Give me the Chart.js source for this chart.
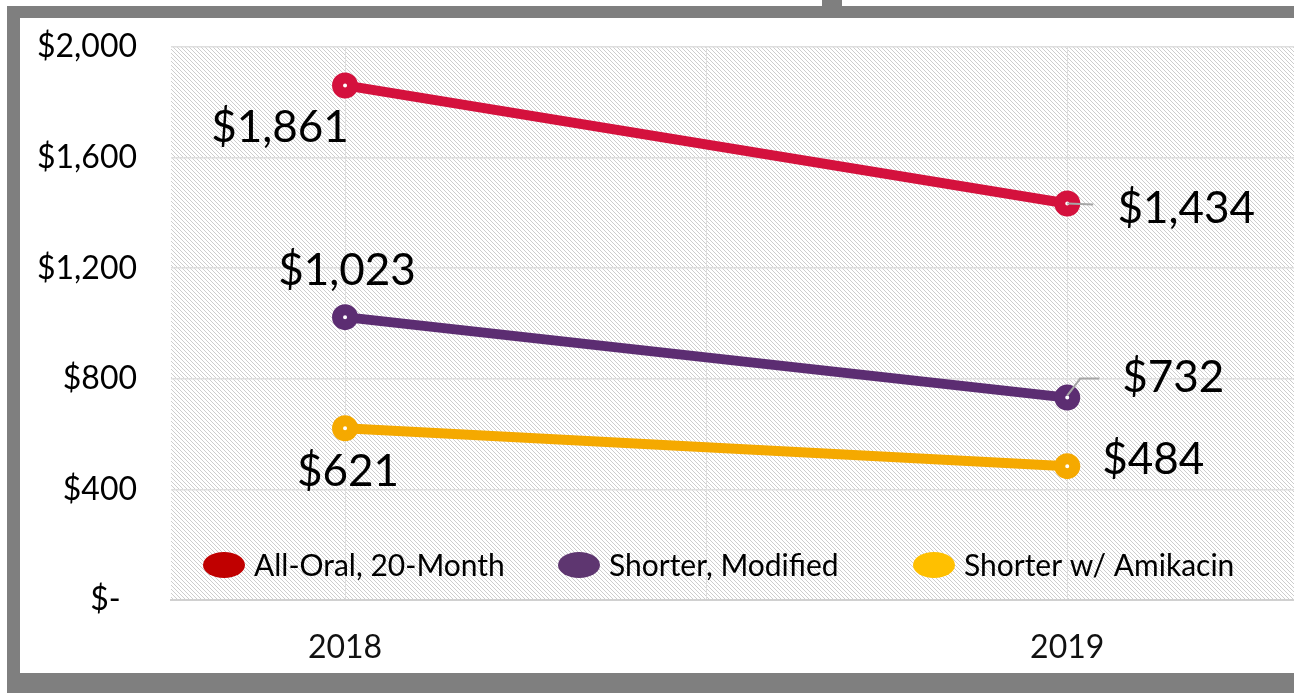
<!DOCTYPE html>
<html>
<head>
<meta charset="utf-8">
<script src="https://cdn.jsdelivr.net/npm/chart.js@4.4.1/dist/chart.umd.min.js"></script>
<style>
    body { margin: 0; background: #fff; overflow: hidden; width: 1294px; height: 693px; position: relative; }
    .bar { position: absolute; background: #7f7f7f; }
    #chartBox { position: absolute; left: 20px; top: 18px; width: 1274px; height: 655px; }
</style>
</head>
<body>
<div class="bar" style="left:822px; top:0; width:20px; height:6px;"></div>
<div class="bar" style="left:7px; top:6px; width:1287px; height:12px;"></div>
<div class="bar" style="left:7px; top:6px; width:13px; height:687px;"></div>
<div class="bar" style="left:7px; top:673px; width:1287px; height:20px;"></div>
<div id="chartBox"><canvas id="costChart" width="1274" height="655"></canvas></div>

<script>
const years = [2018, 2019];
const allOral = [1861, 1434];
const shorterModified = [1023, 732];
const shorterAmikacin = [621, 484];
const seriesNames = ["All-Oral, 20-Month", "Shorter, Modified", "Shorter w/ Amikacin"];
const yTicks = [0, 400, 800, 1200, 1600, 2000];

const lineColors = ['#d4113d', '#5c2d72', '#f5a900'];
const legendColors = ['#c00000', '#5e3670', '#ffc000'];

// label offsets from each point (px), [series][year]
const labelOffsets = [
    [[-65, 42], [119, 5]],
    [[2, -46], [106, -20]],
    [[3, 44], [86, -6]]
];

const toPoints = (vals) => vals.map((v, i) => ({ x: years[i], y: v }));

const makeHatch = function (ctx) {
    const tile = document.createElement('canvas');
    tile.width = 4;
    tile.height = 4;
    const t = tile.getContext('2d');
    t.fillStyle = '#ffffff';
    t.fillRect(0, 0, 4, 4);
    t.fillStyle = '#cdcdcd';
    for (let i = 0; i < 4; i++) {
        t.fillRect(i, i, 1, 1);
    }
    return ctx.createPattern(tile, 'repeat');
};

const hatchPlugin = {
    id: 'hatch',
    beforeDraw(chart) {
        const { ctx, chartArea } = chart;
        ctx.save();
        ctx.fillStyle = '#ffffff';
        ctx.fillRect(0, 0, chart.width, chart.height);
        ctx.fillStyle = makeHatch(ctx);
        ctx.fillRect(chartArea.left, chartArea.top, chartArea.right - chartArea.left, chartArea.bottom - chartArea.top + 1);
        ctx.restore();
    }
};

const valueLabelPlugin = {
    id: 'valueLabels',
    afterDatasetsDraw(chart) {
        const ctx = chart.ctx;
        ctx.save();
        // leader lines for two of the 2019 labels
        ctx.strokeStyle = '#a6a6a6';
        ctx.lineWidth = 2;
        const p1 = chart.getDatasetMeta(0).data[1];
        ctx.beginPath();
        ctx.moveTo(p1.x, p1.y);
        ctx.lineTo(p1.x + 26, p1.y + 1);
        ctx.stroke();
        const p2 = chart.getDatasetMeta(1).data[1];
        ctx.beginPath();
        ctx.moveTo(p2.x, p2.y - 2);
        ctx.lineTo(p2.x + 13, p2.y - 19);
        ctx.lineTo(p2.x + 32, p2.y - 19);
        ctx.stroke();

        ctx.font = '44px Lato';
        ctx.fillStyle = '#000';
        ctx.textAlign = 'center';
        ctx.textBaseline = 'middle';
        chart.data.datasets.forEach((ds, i) => {
            chart.getDatasetMeta(i).data.forEach((pt, j) => {
                const off = labelOffsets[i][j];
                const txt = '$' + ds.data[j].y.toLocaleString('en-US');
                ctx.fillText(txt, pt.x + off[0], pt.y + off[1]);
            });
        });
        ctx.restore();
    }
};

const legendPlugin = {
    id: 'innerLegend',
    afterDraw(chart) {
        const { ctx, chartArea } = chart;
        ctx.save();
        ctx.font = '30px Lato';
        ctx.textAlign = 'left';
        ctx.textBaseline = 'middle';
        seriesNames.forEach((name, i) => {
            const cx = chartArea.left + 53 + i * 355;
            const cy = chartArea.bottom - 35;
            ctx.fillStyle = legendColors[i];
            ctx.beginPath();
            ctx.ellipse(cx, cy, 21, 13, 0, 0, Math.PI * 2);
            ctx.fill();
            ctx.fillStyle = '#000';
            ctx.fillText(name, cx + 30, cy + 1);
        });
        ctx.restore();
    }
};

const lineSet = (label, vals, color) => ({
    label: label,
    data: toPoints(vals),
    borderColor: color,
    backgroundColor: color,
    borderWidth: 10,
    pointRadius: 7.5,
    pointHoverRadius: 7.5,
    pointBorderWidth: 11,
    pointBorderColor: color,
    pointBackgroundColor: '#ffffff'
});

const noEdgePadding = (scale) => {
    scale.paddingTop = 0;
    scale.paddingBottom = 0;
    scale.paddingLeft = 0;
    scale.paddingRight = 0;
};

const ctx = document.getElementById('costChart').getContext('2d');
new Chart(ctx, {
    type: 'line',
    data: {
        datasets: [
            lineSet(seriesNames[0], allOral, lineColors[0]),
            lineSet(seriesNames[1], shorterModified, lineColors[1]),
            lineSet(seriesNames[2], shorterAmikacin, lineColors[2])
        ]
    },
    plugins: [hatchPlugin, valueLabelPlugin, legendPlugin],
    options: {
        responsive: false,
        animation: false,
        layout: { autoPadding: false, padding: { top: 29, left: 0, right: 0, bottom: 0 } },
        plugins: {
            legend: { display: false },
            tooltip: { enabled: false }
        },
        scales: {
            x: {
                type: 'linear',
                min: 2017.759,
                max: 2019.314,
                afterBuildTicks: (scale) => {
                    scale.ticks = [2018, 2018.5, 2019].map(v => ({ value: v }));
                },
                afterFit: (scale) => { scale.height = 73; noEdgePadding(scale); },
                grid: { color: '#dedede', lineWidth: 1, drawTicks: false },
                border: { display: true, color: '#d0d0d0', width: 2 },
                ticks: {
                    padding: 28,
                    color: '#111',
                    font: { family: 'Lato', size: 32 },
                    callback: (v) => (Number.isInteger(v) ? String(v) : '')
                }
            },
            y: {
                min: 0,
                max: 2000,
                afterBuildTicks: (scale) => {
                    scale.ticks = yTicks.map(v => ({ value: v }));
                },
                afterFit: (scale) => { scale.width = 151; noEdgePadding(scale); },
                grid: { color: '#dedede', lineWidth: 1.5, drawTicks: false },
                border: { display: false },
                ticks: {
                    padding: 34,
                    color: '#000',
                    font: { family: 'Lato', size: 32 },
                    callback: (v) => (v === 0 ? '$-  ' : '$' + v.toLocaleString('en-US'))
                }
            }
        }
    }
});
</script>
</body>
</html>
